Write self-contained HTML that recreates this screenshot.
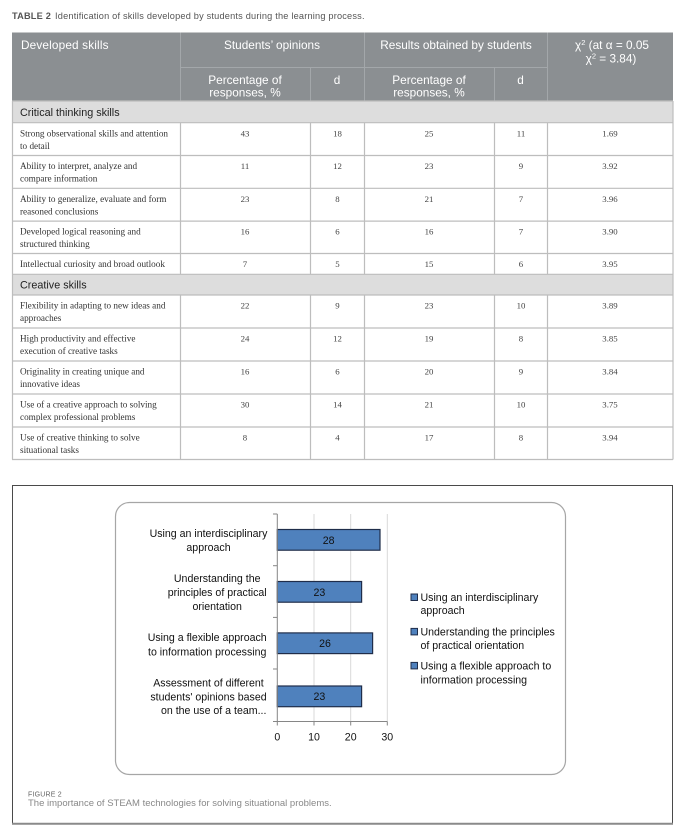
<!DOCTYPE html>
<html>
<head>
<meta charset="utf-8">
<style>
  html, body { margin: 0; padding: 0; background: #ffffff; }
  body { width: 689px; height: 840px; overflow: hidden; position: relative; }
  svg { position: absolute; left: 0; top: 0; }
  .sans { font-family: "Liberation Sans", "DejaVu Sans", sans-serif; }
  .serif { font-family: "Liberation Serif", "DejaVu Serif", serif; }
</style>
</head>
<body>
<svg width="689" height="840" viewBox="0 0 689 840" xmlns="http://www.w3.org/2000/svg">
  <!-- Title -->
  <text x="12" y="19" class="sans" font-size="9.2" fill="#555" letter-spacing="0.2"><tspan font-weight="bold">TABLE 2</tspan><tspan dx="4">Identification of skills developed by students during the learning process.</tspan></text>

  <!-- Header -->
  <rect x="12" y="32.5" width="661" height="68.5" fill="#8b8f92"/>
  <g stroke="#a3a7aa" stroke-width="1">
    <line x1="180.5" y1="32.5" x2="180.5" y2="101"/>
    <line x1="364.5" y1="32.5" x2="364.5" y2="101"/>
    <line x1="547.5" y1="32.5" x2="547.5" y2="101"/>
    <line x1="180.5" y1="67.5" x2="547.5" y2="67.5"/>
    <line x1="310.5" y1="67.5" x2="310.5" y2="101"/>
    <line x1="494.5" y1="67.5" x2="494.5" y2="101"/>
  </g>
  <g class="sans" font-size="11.8" fill="#ffffff">
    <text x="21" y="49.2" letter-spacing="0.15">Developed skills</text>
    <text x="272" y="49.2" text-anchor="middle">Students’ opinions</text>
    <text x="456" y="49.2" text-anchor="middle">Results obtained by students</text>
    <text x="612" y="49" text-anchor="middle">χ<tspan font-size="7.5" dy="-4">2</tspan><tspan dy="4"> (at α = 0.05</tspan></text>
    <text x="611" y="62.3" text-anchor="middle">χ<tspan font-size="7.5" dy="-4">2</tspan><tspan dy="4"> = 3.84)</tspan></text>
    <text x="245" y="84.2" text-anchor="middle">Percentage of</text>
    <text x="245" y="96.5" text-anchor="middle">responses, %</text>
    <text x="337" y="84.2" text-anchor="middle">d</text>
    <text x="429" y="84.2" text-anchor="middle">Percentage of</text>
    <text x="429" y="96.5" text-anchor="middle">responses, %</text>
    <text x="520.5" y="84.2" text-anchor="middle">d</text>
  </g>

  <!-- Bands -->
  <rect x="12" y="101" width="661" height="21.7" fill="#dddddd"/>
  <rect x="12" y="274.3" width="661" height="20.7" fill="#dddddd"/>
  <g class="sans" font-size="10.8" fill="#222">
    <text x="20" y="116">Critical thinking skills</text>
    <text x="20" y="288.6">Creative skills</text>
  </g>

  <!-- Body grid -->
  <g stroke="#bdbdbd" stroke-width="1.2" fill="none">
    <line x1="12" y1="101" x2="673" y2="101"/>
    <line x1="12" y1="122.7" x2="673" y2="122.7"/>
    <line x1="12" y1="155.5" x2="673" y2="155.5"/>
    <line x1="12" y1="188.3" x2="673" y2="188.3"/>
    <line x1="12" y1="221.1" x2="673" y2="221.1"/>
    <line x1="12" y1="253.5" x2="673" y2="253.5"/>
    <line x1="12" y1="274.3" x2="673" y2="274.3"/>
    <line x1="12" y1="295" x2="673" y2="295"/>
    <line x1="12" y1="328" x2="673" y2="328"/>
    <line x1="12" y1="361" x2="673" y2="361"/>
    <line x1="12" y1="394" x2="673" y2="394"/>
    <line x1="12" y1="427" x2="673" y2="427"/>
    <line x1="12" y1="459.5" x2="673" y2="459.5"/>
    <line x1="12.5" y1="101" x2="12.5" y2="459.5"/>
    <line x1="673" y1="101" x2="673" y2="459.5"/>
    <line x1="180.5" y1="122.7" x2="180.5" y2="274.3"/>
    <line x1="310.5" y1="122.7" x2="310.5" y2="274.3"/>
    <line x1="364.5" y1="122.7" x2="364.5" y2="274.3"/>
    <line x1="494.5" y1="122.7" x2="494.5" y2="274.3"/>
    <line x1="547.5" y1="122.7" x2="547.5" y2="274.3"/>
    <line x1="180.5" y1="295" x2="180.5" y2="459.5"/>
    <line x1="310.5" y1="295" x2="310.5" y2="459.5"/>
    <line x1="364.5" y1="295" x2="364.5" y2="459.5"/>
    <line x1="494.5" y1="295" x2="494.5" y2="459.5"/>
    <line x1="547.5" y1="295" x2="547.5" y2="459.5"/>
  </g>

  <!-- Body text -->
  <g class="serif" font-size="9.2" fill="#333">
    <text x="20" y="136.3">Strong observational skills and attention</text>
    <text x="20" y="148.8">to detail</text>
    <text x="20" y="169.1">Ability to interpret, analyze and</text>
    <text x="20" y="181.6">compare information</text>
    <text x="20" y="201.9">Ability to generalize, evaluate and form</text>
    <text x="20" y="214.4">reasoned conclusions</text>
    <text x="20" y="234.7">Developed logical reasoning and</text>
    <text x="20" y="247.2">structured thinking</text>
    <text x="20" y="267.1">Intellectual curiosity and broad outlook</text>
    <text x="20" y="308.6">Flexibility in adapting to new ideas and</text>
    <text x="20" y="321.1">approaches</text>
    <text x="20" y="341.6">High productivity and effective</text>
    <text x="20" y="354.1">execution of creative tasks</text>
    <text x="20" y="374.6">Originality in creating unique and</text>
    <text x="20" y="387.1">innovative ideas</text>
    <text x="20" y="407.6">Use of a creative approach to solving</text>
    <text x="20" y="420.1">complex professional problems</text>
    <text x="20" y="440.6">Use of creative thinking to solve</text>
    <text x="20" y="453.1">situational tasks</text>
  </g>
  <g class="serif" font-size="8.8" fill="#444" text-anchor="middle">
    <text x="245" y="136.3">43</text><text x="337.5" y="136.3">18</text><text x="429" y="136.3">25</text><text x="521" y="136.3">11</text><text x="610" y="136.3">1.69</text>
    <text x="245" y="169.1">11</text><text x="337.5" y="169.1">12</text><text x="429" y="169.1">23</text><text x="521" y="169.1">9</text><text x="610" y="169.1">3.92</text>
    <text x="245" y="201.9">23</text><text x="337.5" y="201.9">8</text><text x="429" y="201.9">21</text><text x="521" y="201.9">7</text><text x="610" y="201.9">3.96</text>
    <text x="245" y="234.7">16</text><text x="337.5" y="234.7">6</text><text x="429" y="234.7">16</text><text x="521" y="234.7">7</text><text x="610" y="234.7">3.90</text>
    <text x="245" y="267.1">7</text><text x="337.5" y="267.1">5</text><text x="429" y="267.1">15</text><text x="521" y="267.1">6</text><text x="610" y="267.1">3.95</text>
    <text x="245" y="308.6">22</text><text x="337.5" y="308.6">9</text><text x="429" y="308.6">23</text><text x="521" y="308.6">10</text><text x="610" y="308.6">3.89</text>
    <text x="245" y="341.6">24</text><text x="337.5" y="341.6">12</text><text x="429" y="341.6">19</text><text x="521" y="341.6">8</text><text x="610" y="341.6">3.85</text>
    <text x="245" y="374.6">16</text><text x="337.5" y="374.6">6</text><text x="429" y="374.6">20</text><text x="521" y="374.6">9</text><text x="610" y="374.6">3.84</text>
    <text x="245" y="407.6">30</text><text x="337.5" y="407.6">14</text><text x="429" y="407.6">21</text><text x="521" y="407.6">10</text><text x="610" y="407.6">3.75</text>
    <text x="245" y="440.6">8</text><text x="337.5" y="440.6">4</text><text x="429" y="440.6">17</text><text x="521" y="440.6">8</text><text x="610" y="440.6">3.94</text>
  </g>

  <!-- Figure outer box -->
  <rect x="12.5" y="485.5" width="660" height="338" fill="none" stroke="#4a4a4a" stroke-width="1"/>
  <line x1="12" y1="823.8" x2="673" y2="823.8" stroke="#8a8a8a" stroke-width="2"/>

  <!-- Chart area rounded box -->
  <rect x="115.5" y="502.5" width="450" height="272" rx="14" ry="14" fill="#ffffff" stroke="#a6a6a6" stroke-width="1.2"/>

  <!-- Gridlines -->
  <g stroke="#d9d9d9" stroke-width="1">
    <line x1="314" y1="514" x2="314" y2="721.5"/>
    <line x1="350.7" y1="514" x2="350.7" y2="721.5"/>
    <line x1="387.3" y1="514" x2="387.3" y2="721.5"/>
  </g>

  <!-- Bars -->
  <g fill="#4f81bd" stroke="#1f2d4a" stroke-width="1.2">
    <rect x="277.3" y="529.5" width="102.7" height="20.7"/>
    <rect x="277.3" y="581.5" width="84.3" height="20.7"/>
    <rect x="277.3" y="632.9" width="95.3" height="20.7"/>
    <rect x="277.3" y="686" width="84.3" height="20.7"/>
  </g>

  <!-- Axes -->
  <g stroke="#868686" stroke-width="1">
    <line x1="277.3" y1="514" x2="277.3" y2="721.5"/>
    <line x1="277.3" y1="721.5" x2="387.3" y2="721.5"/>
    <line x1="273" y1="514" x2="277.3" y2="514"/>
    <line x1="273" y1="565.7" x2="277.3" y2="565.7"/>
    <line x1="273" y1="617.4" x2="277.3" y2="617.4"/>
    <line x1="273" y1="669" x2="277.3" y2="669"/>
    <line x1="273" y1="721.5" x2="277.3" y2="721.5"/>
    <line x1="277.3" y1="721.5" x2="277.3" y2="725.5"/>
    <line x1="314" y1="721.5" x2="314" y2="725.5"/>
    <line x1="350.7" y1="721.5" x2="350.7" y2="725.5"/>
    <line x1="387.3" y1="721.5" x2="387.3" y2="725.5"/>
  </g>

  <!-- Data labels -->
  <g class="sans" font-size="10.6" fill="#111" text-anchor="middle">
    <text x="328.6" y="543.8">28</text>
    <text x="319.4" y="595.8">23</text>
    <text x="325" y="647.2">26</text>
    <text x="319.4" y="700.2">23</text>
  </g>

  <!-- Category labels -->
  <g class="sans" font-size="10.6" fill="#111" text-anchor="middle">
    <text x="208.5" y="537.1">Using an interdisciplinary</text>
    <text x="208.5" y="551.1">approach</text>
    <text x="217.2" y="582.1">Understanding the</text>
    <text x="217.2" y="596.1">principles of practical</text>
    <text x="217.2" y="609.8">orientation</text>
    <text x="207.2" y="641.1">Using a flexible approach</text>
    <text x="207.2" y="655.5">to information processing</text>
    <text x="208.5" y="686.5">Assessment of different</text>
    <text x="208.5" y="700.5">students' opinions based</text>
    <text x="213.7" y="713.8">on the use of a team...</text>
  </g>

  <!-- Tick labels -->
  <g class="sans" font-size="10.6" fill="#111" text-anchor="middle">
    <text x="277.3" y="740.5">0</text>
    <text x="314" y="740.5">10</text>
    <text x="350.7" y="740.5">20</text>
    <text x="387.3" y="740.5">30</text>
  </g>

  <!-- Legend -->
  <g fill="#4f81bd" stroke="#1f2d4a" stroke-width="1">
    <rect x="411" y="594" width="6.5" height="6.5"/>
    <rect x="411" y="628.4" width="6.5" height="6.5"/>
    <rect x="411" y="662.4" width="6.5" height="6.5"/>
  </g>
  <g class="sans" font-size="10.6" fill="#111">
    <text x="420.5" y="601.1">Using an interdisciplinary</text>
    <text x="420.5" y="613.8">approach</text>
    <text x="420.5" y="635.5">Understanding the principles</text>
    <text x="420.5" y="649.1">of practical orientation</text>
    <text x="420.5" y="669.5">Using a flexible approach to</text>
    <text x="420.5" y="683.5">information processing</text>
  </g>

  <!-- Caption -->
  <text x="28" y="796.5" class="sans" font-size="7" fill="#666" letter-spacing="0.2">FIGURE 2</text>
  <text x="28" y="805.8" class="sans" font-size="9.5" fill="#888">The importance of STEAM technologies for solving situational problems.</text>
</svg>
</body>
</html>
